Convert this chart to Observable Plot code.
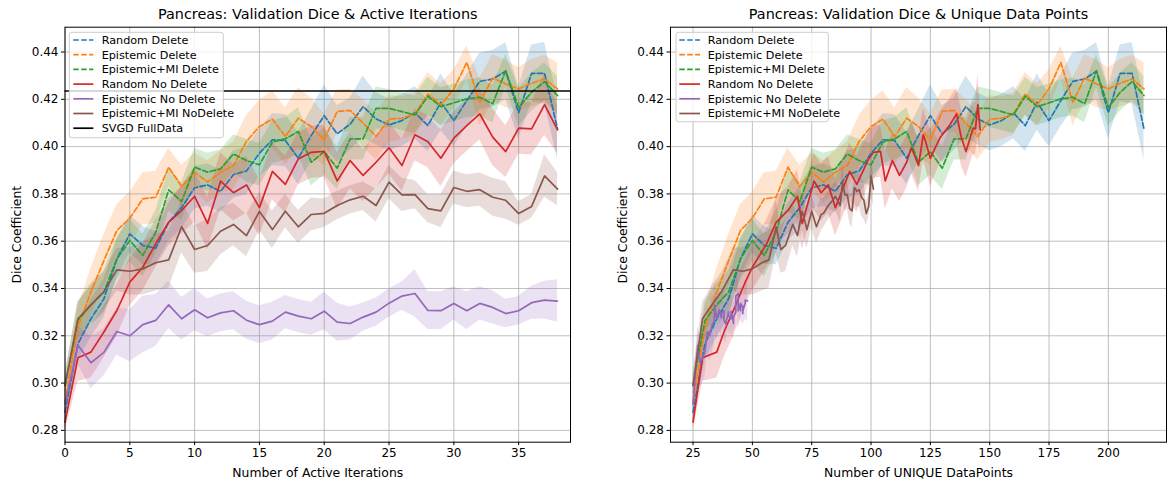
<!DOCTYPE html>
<html><head><meta charset="utf-8">
<script src="https://cdn.jsdelivr.net/npm/d3@7"></script>
<script src="https://cdn.jsdelivr.net/npm/@observablehq/plot@0.6"></script>
<style>
body{margin:0;background:#fff;font-family:"DejaVu Sans",sans-serif}
#wrap{position:relative;width:1169px;height:483px;overflow:hidden}
#wrap > svg{position:absolute;top:0}
</style></head><body><div id="wrap"></div>
<script>
// ---------- data ----------
const iterations = [0,1,2,3,4,5,6,7,8,9,10,11,12,13,14,15,16,17,18,19,20,21,22,23,24,25,26,27,28,29,30,31,32,33,34,35,36,37,38];

const randomDelete = [0.2877,0.3166,0.3272,0.3356,0.3525,0.3631,0.3582,0.357,0.368,0.3742,0.3826,0.3838,0.3811,0.3882,0.3897,0.3972,0.4029,0.4026,0.3951,0.4047,0.4131,0.4054,0.4095,0.4169,0.4117,0.4092,0.411,0.4143,0.4089,0.4188,0.411,0.4195,0.4276,0.4286,0.4319,0.4143,0.431,0.431,0.4075];
const epistemicDelete = [0.292,0.3237,0.3385,0.3518,0.3645,0.3697,0.3779,0.3786,0.3913,0.3831,0.3892,0.385,0.3892,0.392,0.4022,0.4085,0.4116,0.4043,0.412,0.4085,0.4029,0.4149,0.4153,0.4099,0.4043,0.4116,0.412,0.4138,0.4223,0.4176,0.4244,0.4356,0.4188,0.429,0.4265,0.4244,0.4268,0.4286,0.4244];
const epistemicMIDelete = [0.299,0.3265,0.3331,0.3385,0.3525,0.3603,0.354,0.3638,0.3817,0.3768,0.3913,0.3892,0.3906,0.3969,0.3941,0.3923,0.4019,0.4033,0.4064,0.3934,0.3979,0.3909,0.4033,0.4033,0.4162,0.4162,0.4148,0.4134,0.4213,0.4169,0.4185,0.4202,0.4209,0.4181,0.4321,0.4166,0.423,0.4275,0.4216];
const randomNoDelete = [0.2835,0.3107,0.3131,0.3216,0.3307,0.3427,0.349,0.3589,0.368,0.373,0.379,0.3675,0.3854,0.3805,0.3838,0.3742,0.3895,0.384,0.3948,0.3976,0.398,0.3855,0.3941,0.3878,0.3934,0.3995,0.392,0.405,0.4021,0.3951,0.4036,0.4089,0.4138,0.404,0.3979,0.4078,0.4075,0.4178,0.4071];
const epistemicNoDelete = [0.291,0.316,0.3086,0.313,0.3218,0.32,0.3247,0.3265,0.3331,0.3272,0.331,0.3276,0.3297,0.3306,0.3266,0.3247,0.3262,0.33,0.3283,0.3272,0.3304,0.3258,0.3252,0.3279,0.33,0.3338,0.3368,0.3379,0.3307,0.3306,0.3337,0.3306,0.3337,0.332,0.3294,0.3306,0.334,0.3351,0.3347];
const epistemicMINoDelete = [0.299,0.3272,0.3331,0.3387,0.3479,0.3473,0.3483,0.3509,0.3521,0.3661,0.3565,0.3582,0.3642,0.3671,0.3624,0.3726,0.3649,0.3727,0.3661,0.3713,0.3718,0.3751,0.3775,0.379,0.3751,0.385,0.3796,0.3797,0.3738,0.3728,0.3827,0.3811,0.3818,0.3786,0.3773,0.3717,0.3747,0.3876,0.382];

const randomDeleteStd = [0.004,0.007,0.008,0.008,0.008,0.008,0.008,0.007,0.008,0.009,0.009,0.009,0.009,0.01,0.01,0.01,0.011,0.011,0.011,0.011,0.013,0.012,0.011,0.013,0.011,0.011,0.011,0.011,0.011,0.012,0.011,0.011,0.012,0.012,0.012,0.011,0.012,0.013,0.013];
const epistemicDeleteStd = [0.004,0.008,0.01,0.011,0.011,0.011,0.011,0.011,0.008,0.009,0.008,0.009,0.009,0.01,0.011,0.011,0.012,0.012,0.013,0.012,0.011,0.009,0.009,0.01,0.01,0.01,0.009,0.009,0.009,0.009,0.008,0.007,0.01,0.01,0.01,0.009,0.01,0.01,0.011];
const epistemicMIDeleteStd = [0.004,0.008,0.009,0.009,0.009,0.009,0.009,0.009,0.009,0.008,0.008,0.008,0.008,0.008,0.009,0.009,0.009,0.009,0.01,0.01,0.01,0.009,0.009,0.009,0.009,0.008,0.008,0.008,0.008,0.008,0.008,0.008,0.008,0.008,0.007,0.008,0.008,0.008,0.008];
const randomNoDeleteStd = [0.004,0.01,0.011,0.011,0.011,0.01,0.01,0.01,0.01,0.01,0.011,0.011,0.012,0.012,0.012,0.012,0.012,0.012,0.011,0.011,0.011,0.012,0.012,0.011,0.011,0.011,0.011,0.011,0.011,0.012,0.011,0.011,0.011,0.012,0.011,0.011,0.011,0.013,0.01];
const epistemicNoDeleteStd = [0.006,0.008,0.011,0.01,0.01,0.011,0.012,0.011,0.01,0.009,0.009,0.008,0.008,0.008,0.008,0.008,0.008,0.007,0.007,0.007,0.008,0.008,0.007,0.006,0.006,0.006,0.006,0.01,0.008,0.008,0.007,0.008,0.007,0.007,0.006,0.006,0.007,0.008,0.009];
const epistemicMINoDeleteStd = [0.005,0.007,0.008,0.008,0.009,0.01,0.011,0.012,0.012,0.011,0.01,0.011,0.01,0.009,0.009,0.008,0.008,0.007,0.007,0.007,0.006,0.006,0.006,0.006,0.007,0.007,0.007,0.006,0.006,0.007,0.007,0.007,0.007,0.008,0.008,0.005,0.005,0.009,0.007];

const uniqueDelete = [25,30,35,40,45,50,55,60,65,70,75,80,85,90,95,100,105,110,115,120,125,130,135,140,145,150,155,160,165,170,175,180,185,190,195,200,205,210,215];
const uniqueRandomNoDelete = [25,29,35,38,42,47,50,56,60,65,69,71,76,79,82,85,91,94,99,101,104,106,109,112,115,117,120,122,123,125,129,133,136,138,140,143,144,145,146];
const uniqueEpistemicNoDelete = [25,27,28,30,31,32,33,34,34,35,36,37,37,38,38,39,39,40,40,41,41,42,42,42,43,43,43,44,44,44,45,45,45,46,46,46,47,47,48];
const uniqueEpistemicMINoDelete = [25,29,33,37,42,46,50,54,57,60,62,64,66,67,69,71,73,75,77,79,80,82,84,85,87,88,89,90,91,92,93,94,95,96,97,98,99,100,101];

const svgdFullData = 0.4235;

const seriesNames = ["Random Delete","Epistemic Delete","Epistemic+MI Delete","Random No Delete","Epistemic No Delete","Epistemic+MI NoDelete"];
const seriesColors = ["#1f77b4","#ff7f0e","#2ca02c","#d62728","#9467bd","#8c564b"];
const seriesDashed = [true,true,true,false,false,false];
const seriesMeans = [randomDelete,epistemicDelete,epistemicMIDelete,randomNoDelete,epistemicNoDelete,epistemicMINoDelete];
const seriesStds = [randomDeleteStd,epistemicDeleteStd,epistemicMIDeleteStd,randomNoDeleteStd,epistemicNoDeleteStd,epistemicMINoDeleteStd];
const seriesUnique = [uniqueDelete,uniqueDelete,uniqueDelete,uniqueRandomNoDelete,uniqueEpistemicNoDelete,uniqueEpistemicMINoDelete];

const yTicks = [0.28,0.30,0.32,0.34,0.36,0.38,0.40,0.42,0.44];
const leftXTicks = [0,5,10,15,20,25,30,35];
const rightXTicks = [25,50,75,100,125,150,175,200];

// ---------- build rows ----------
const series = seriesNames.map((name, k) => ({
  name, color: seriesColors[k], dashed: seriesDashed[k],
  rows: iterations.map((it, i) => ({
    it, unique: seriesUnique[k][i], mean: seriesMeans[k][i],
    lo: seriesMeans[k][i] - seriesStds[k][i], hi: seriesMeans[k][i] + seriesStds[k][i]
  }))
}));

const FONT = "DejaVu Sans";
const TICK_FS = 12, LABEL_FS = 12.4, TITLE_FS = 14.4, LEGEND_FS = 11.2;
const gridStyle = {stroke:"#b0b0b0", strokeOpacity:1, strokeWidth:0.8};

function panel({xKey, xDomain, xTicks, width, marginLeft, marginRight, title, xLabel, svgd}) {
  const areas = series.map(s => Plot.areaY(s.rows, {x:xKey, y1:"lo", y2:"hi", fill:s.color, fillOpacity:0.2, curve:"linear"}));
  const lines = series.map(s => Plot.lineY(s.rows, {x:xKey, y:"mean", stroke:s.color, strokeWidth:1.7,
      strokeDasharray: s.dashed ? "5.5,2.4" : null, curve:"linear"}));
  return Plot.plot({
    width, height:483, marginLeft, marginRight, marginTop:26.7, marginBottom:41.3,
    style:{fontFamily:FONT, fontSize:TICK_FS+"px", background:"transparent", overflow:"visible"},
    x:{domain:xDomain},
    y:{domain:[0.275,0.4505]},
    marks:[
      Plot.gridX({ticks:xTicks, ...gridStyle}),
      Plot.gridY({ticks:yTicks, ...gridStyle}),
      ...areas,
      ...lines,
      svgd ? Plot.ruleY([svgdFullData], {stroke:"black", strokeWidth:1.6}) : null,
      Plot.frame({stroke:"black", strokeWidth:1}),
      Plot.axisX({ticks:xTicks, tickSize:3.5, tickPadding:3, fontSize:TICK_FS, label:null}),
      Plot.axisY({ticks:yTicks, tickSize:3.5, tickPadding:3, fontSize:TICK_FS, label:null, tickFormat:d=>d.toFixed(2)}),
      Plot.text([title], {frameAnchor:"top", dy:-12.7, lineAnchor:"middle", textAnchor:"middle", fontSize:TITLE_FS, text:d=>d}),
      Plot.text([xLabel], {frameAnchor:"bottom", dy:30.5, lineAnchor:"middle", textAnchor:"middle", fontSize:LABEL_FS, text:d=>d}),
      Plot.text(["Dice Coefficient"], {frameAnchor:"left", dx:-47.5, rotate:-90, lineAnchor:"middle", textAnchor:"middle", fontSize:LABEL_FS, text:d=>d})
    ]
  });
}

const wrap = document.getElementById("wrap");
const left = panel({xKey:"it", xDomain:[0,39], xTicks:leftXTicks, width:584, marginLeft:64.5, marginRight:14,
  title:"Pancreas: Validation Dice & Active Iterations", xLabel:"Number of Active Iterations", svgd:true});
left.style.left = "0px";
wrap.appendChild(left);
const right = panel({xKey:"unique", xDomain:[15.5,224.5], xTicks:rightXTicks, width:585, marginLeft:86, marginRight:3,
  title:"Pancreas: Validation Dice & Unique Data Points", xLabel:"Number of UNIQUE DataPoints", svgd:false});
right.style.left = "584px";
wrap.appendChild(right);

// ---------- legends (overlay) ----------
const ov = d3.select(wrap).append("svg").attr("width",1169).attr("height",483)
  .style("position","absolute").style("left","0px").style("top","0px").style("pointer-events","none");

function legend(entries, {bx, by, bw, bh, sx0, sx1, tx}) {
  const g = ov.append("g").style("font-family", "'DejaVu Sans', sans-serif").style("font-size", LEGEND_FS + "px");
  g.append("rect").attr("x",bx).attr("y",by).attr("width",bw).attr("height",bh).attr("rx",2.5)
    .attr("fill","white").attr("fill-opacity",0.8).attr("stroke","#cccccc").attr("stroke-width",1);
  entries.forEach((e, k) => {
    const y = by + 7.7 + k*14.7;
    g.append("line").attr("x1",sx0).attr("x2",sx1).attr("y1",y).attr("y2",y)
      .attr("stroke",e.color).attr("stroke-width",1.7).attr("stroke-dasharray", e.dashed ? "5.5,2.4" : null);
    g.append("text").attr("x",tx).attr("y",y).attr("dy","0.35em").attr("fill","#000").text(e.name);
  });
}
const baseEntries = series.map(s => ({name:s.name, color:s.color, dashed:s.dashed}));
legend([...baseEntries, {name:"SVGD FullData", color:"#000", dashed:false}], {bx:69.3, by:32.3, bw:154, bh:105.4, sx0:73.3, sx1:93.3, tx:101.7});
legend(baseEntries, {bx:676, by:32.3, bw:152.3, bh:89.4, sx0:679.3, sx1:700, tx:707.7});
</script></body></html>
